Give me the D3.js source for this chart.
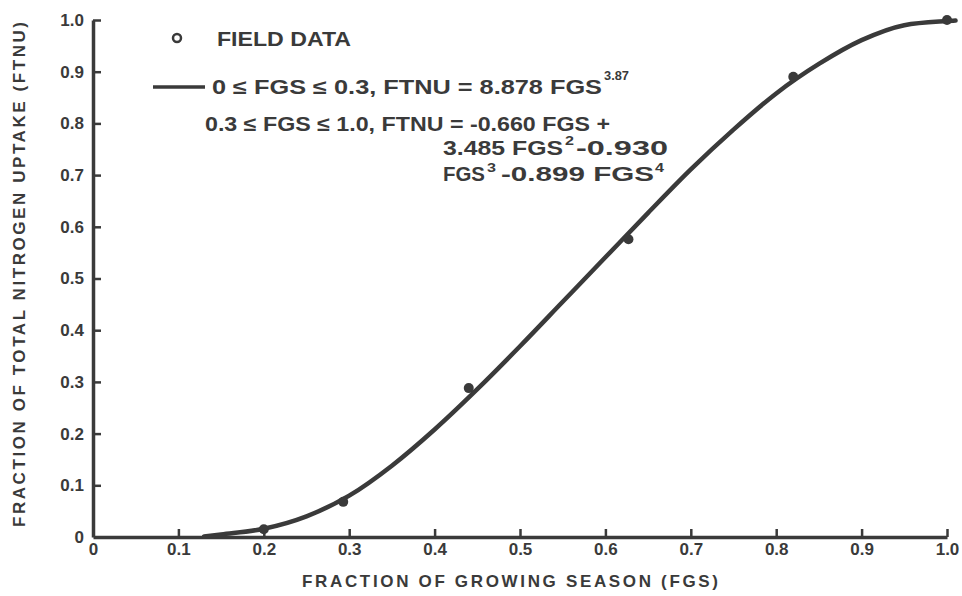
<!DOCTYPE html>
<html>
<head>
<meta charset="utf-8">
<script src="https://cdn.jsdelivr.net/npm/d3@7"></script>
<style>
  body { margin: 0; background: #fff; }
  text { font-family: "Liberation Sans", Arial, sans-serif; font-weight: bold; fill: #3a3a3a; }
</style>
</head>
<body>
<svg id="chart" width="962" height="596"></svg>
<script>
// field data points (FGS, FTNU)
var fieldFGS  = [0.20, 0.293, 0.44, 0.627, 0.82, 1.0];
var fieldFTNU = [0.015, 0.068, 0.288, 0.576, 0.89, 1.0];

// fitted curve
var curveFGS  = [0.13, 0.15, 0.20, 0.25, 0.30, 0.35, 0.40, 0.45, 0.50, 0.55, 0.60, 0.65, 0.70, 0.75, 0.80, 0.85, 0.90, 0.95, 1.0, 1.01];
var curveFTNU = [0.001, 0.005, 0.016, 0.040, 0.080, 0.138, 0.208, 0.286, 0.369, 0.455, 0.541, 0.627, 0.711, 0.788, 0.858, 0.915, 0.961, 0.990, 0.998, 0.999];

var xTicks = [0, 0.1, 0.2, 0.3, 0.4, 0.5, 0.6, 0.7, 0.8, 0.9, 1.0];
var xTickLabels = ["0", "0.1", "0.2", "0.3", "0.4", "0.5", "0.6", "0.7", "0.8", "0.9", "1.0"];
var yTicks = [0, 0.1, 0.2, 0.3, 0.4, 0.5, 0.6, 0.7, 0.8, 0.9, 1.0];
var yTickLabels = ["0", "0.1", "0.2", "0.3", "0.4", "0.5", "0.6", "0.7", "0.8", "0.9", "1.0"];

var ink = "#3a3a3a";
var svg = d3.select("#chart");

var xScale = d3.scaleLinear().domain([0, 1]).range([93, 947]);
var yScale = d3.scaleLinear().domain([0, 1]).range([537, 20]);

//x axis
var xAxis = d3.axisBottom(xScale)
  .tickValues(xTicks)
  .tickFormat(function(d, i){ return xTickLabels[i]; })
  .tickSize(-8)
  .tickSizeOuter(0)
  .tickPadding(6);
var gx = svg.append("g")
  .attr("transform", "translate(0," + yScale(0) + ")")
  .call(xAxis);
gx.selectAll("text").style("font-size", "17px").attr("fill", ink);

//y axis
var yAxis = d3.axisLeft(yScale)
  .tickValues(yTicks)
  .tickFormat(function(d, i){ return yTickLabels[i]; })
  .tickSize(-8)
  .tickSizeOuter(0)
  .tickPadding(9);
var gy = svg.append("g")
  .attr("transform", "translate(" + xScale(0) + ",0)")
  .call(yAxis);
gy.selectAll("text").style("font-size", "17px").attr("fill", ink);

[gx, gy].forEach(function(g){
  g.select(".domain").attr("stroke", ink).attr("stroke-width", 3.5);
  g.selectAll(".tick line").attr("stroke", ink).attr("stroke-width", 2.5);
});
gx.selectAll(".tick").filter(function(d){ return d === 0; }).select("line").remove();
gy.selectAll(".tick").filter(function(d){ return d === 0; }).select("line").remove();

//axis titles
svg.append("text")
  .attr("x", 302).attr("y", 587)
  .attr("textLength", 416).attr("lengthAdjust", "spacing")
  .style("font-size", "17px")
  .text("FRACTION  OF  GROWING  SEASON  (FGS)");

svg.append("text")
  .attr("transform", "translate(25,527) rotate(-90)")
  .attr("textLength", 505).attr("lengthAdjust", "spacing")
  .style("font-size", "17px")
  .text("FRACTION  OF  TOTAL  NITROGEN  UPTAKE  (FTNU)");

//curve
var curvePts = curveFGS.map(function(d, i){ return [d, curveFTNU[i]]; });
var line = d3.line()
  .x(function(d){ return xScale(d[0]); })
  .y(function(d){ return yScale(d[1]); })
  .curve(d3.curveMonotoneX);
svg.append("path")
  .datum(curvePts)
  .attr("d", line)
  .attr("fill", "none")
  .attr("stroke", ink)
  .attr("stroke-width", 4.5)
  .attr("stroke-linecap", "round");

//field data
svg.selectAll("circle.field")
  .data(fieldFGS.map(function(d, i){ return [d, fieldFTNU[i]]; }))
  .enter()
  .append("circle")
  .attr("class", "field")
  .attr("cx", function(d){ return xScale(d[0]); })
  .attr("cy", function(d){ return yScale(d[1]); })
  .attr("r", 5)
  .attr("fill", ink);

//legend
var legend = svg.append("g");
function label(x, y, w, size, s){
  legend.append("text")
    .attr("x", x).attr("y", y)
    .attr("textLength", w).attr("lengthAdjust", "spacingAndGlyphs")
    .style("font-size", size + "px")
    .text(s);
}
legend.append("circle")
  .attr("cx", 177).attr("cy", 38).attr("r", 4)
  .attr("fill", "none").attr("stroke", ink).attr("stroke-width", 2.5);
label(217, 46, 134, 20, "FIELD DATA");

legend.append("line")
  .attr("x1", 153).attr("x2", 205).attr("y1", 87).attr("y2", 87)
  .attr("stroke", ink).attr("stroke-width", 3.5);

label(212, 94, 390, 20, "0 \u2264 FGS \u2264 0.3,  FTNU = 8.878 FGS");
label(604, 80, 25, 13, "3.87");

label(205, 131, 405, 20, "0.3 \u2264 FGS \u2264 1.0,  FTNU = -0.660 FGS  +");

label(443, 155, 120, 20, "3.485 FGS");
label(565, 145, 9, 12, "2");
label(576, 155, 92, 20, "-0.930");

label(443, 181, 42, 20, "FGS");
label(487, 172, 9, 12, "3");
label(501, 181, 153, 20, "-0.899 FGS");
label(655, 172, 9, 12, "4");
</script>
</body>
</html>
